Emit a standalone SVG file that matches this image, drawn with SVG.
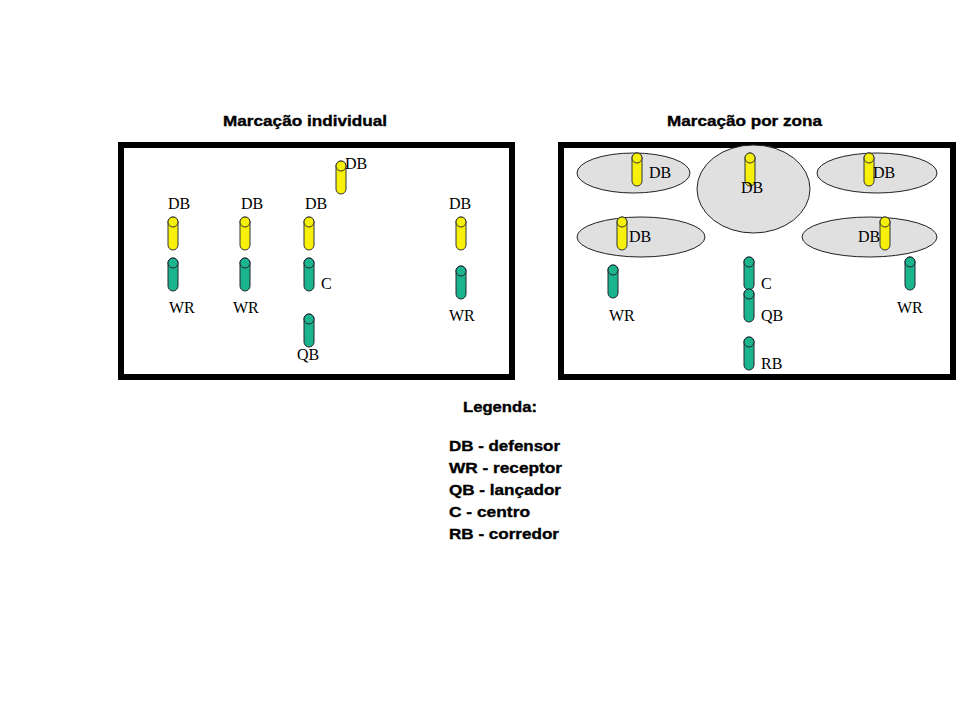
<svg xmlns="http://www.w3.org/2000/svg" width="970" height="718" viewBox="0 0 970 718">
<style>
.bg{fill:#fff}
.field{fill:#fff;stroke:#000;stroke-width:6}
.zone{fill:#e0e0e0;stroke:#222;stroke-width:1}
use.y{fill:#f7f00a;stroke:#333;stroke-width:1}
use.g{fill:#1ab58c;stroke:#223;stroke-width:1}
.lbl{font-family:"Liberation Serif","Times New Roman",serif;font-size:16px;fill:#000;stroke:none}
.title,.leg{font-family:"Liberation Sans",Arial,sans-serif;font-weight:bold;font-size:15px;fill:#000;stroke:#000;stroke-width:0.35}
</style>
<defs>
<g id="cyl"><rect x="-5" y="0" width="10" height="33" rx="5"/><circle cx="0" cy="5" r="5"/></g>
</defs>
<rect class="bg" x="0" y="0" width="970" height="718"/>

<text class="title" x="223" y="126" textLength="164" lengthAdjust="spacingAndGlyphs">Marcação individual</text>
<text class="title" x="667" y="126" textLength="155" lengthAdjust="spacingAndGlyphs">Marcação por zona</text>

<g id="field-individual">
<rect class="field" x="121" y="145" width="391" height="232"/>
</g>
<g id="field-zone">
<rect class="field" x="561" y="145" width="392" height="232"/>
</g>

<g id="zones">
<ellipse class="zone" cx="633.5" cy="173" rx="56.5" ry="20"/>
<ellipse class="zone" cx="753.5" cy="189" rx="56.5" ry="44"/>
<ellipse class="zone" cx="877" cy="173" rx="60" ry="20"/>
<ellipse class="zone" cx="641" cy="237" rx="64" ry="20"/>
<ellipse class="zone" cx="869.5" cy="237" rx="67.5" ry="20"/>
</g>

<g id="connectors"></g>

<!-- Individual marking -->
<g id="ind-db1"><use class="y" href="#cyl" x="173" y="217"/><text class="lbl" x="168" y="209">DB</text></g>
<g id="ind-wr1"><use class="g" href="#cyl" x="173" y="258"/><text class="lbl" x="169" y="313">WR</text></g>
<g id="ind-db2"><use class="y" href="#cyl" x="245" y="217"/><text class="lbl" x="241" y="209">DB</text></g>
<g id="ind-wr2"><use class="g" href="#cyl" x="245" y="258"/><text class="lbl" x="233" y="313">WR</text></g>
<g id="ind-db3"><use class="y" href="#cyl" x="309" y="217"/><text class="lbl" x="305" y="209">DB</text></g>
<g id="ind-c"><use class="g" href="#cyl" x="309" y="258"/><text class="lbl" x="321" y="289">C</text></g>
<g id="ind-qb"><use class="g" href="#cyl" x="309" y="314"/><text class="lbl" x="297" y="360">QB</text></g>
<g id="ind-db4"><use class="y" href="#cyl" x="341" y="161"/><text class="lbl" x="345" y="169">DB</text></g>
<g id="ind-db5"><use class="y" href="#cyl" x="461" y="217"/><text class="lbl" x="449" y="209">DB</text></g>
<g id="ind-wr3"><use class="g" href="#cyl" x="461" y="266"/><text class="lbl" x="449" y="321">WR</text></g>

<!-- Zone marking -->
<g id="zone-db1"><use class="y" href="#cyl" x="637" y="153"/><text class="lbl" x="649" y="178">DB</text></g>
<g id="zone-db2"><use class="y" href="#cyl" x="750" y="153"/><text class="lbl" x="741" y="193">DB</text></g>
<g id="zone-db3"><use class="y" href="#cyl" x="869" y="153"/><text class="lbl" x="873" y="178">DB</text></g>
<g id="zone-db4"><use class="y" href="#cyl" x="622" y="217"/><text class="lbl" x="629" y="242">DB</text></g>
<g id="zone-db5"><text class="lbl" x="858" y="242">DB</text><use class="y" href="#cyl" x="885" y="217"/></g>
<g id="zone-wr1"><use class="g" href="#cyl" x="613" y="265"/><text class="lbl" x="609" y="321">WR</text></g>
<g id="zone-c"><use class="g" href="#cyl" x="749" y="257"/><text class="lbl" x="761" y="289">C</text></g>
<g id="zone-qb"><use class="g" href="#cyl" x="749" y="289"/><text class="lbl" x="761" y="321">QB</text></g>
<g id="zone-rb"><use class="g" href="#cyl" x="749" y="337"/><text class="lbl" x="761" y="369">RB</text></g>
<g id="zone-wr2"><use class="g" href="#cyl" x="910" y="257"/><text class="lbl" x="897" y="313">WR</text></g>

<g id="legend">
<text class="leg" x="463" y="412" textLength="74" lengthAdjust="spacingAndGlyphs">Legenda:</text>
<text class="leg" x="449" y="451" textLength="111" lengthAdjust="spacingAndGlyphs">DB - defensor</text>
<text class="leg" x="449" y="473" textLength="113" lengthAdjust="spacingAndGlyphs">WR - receptor</text>
<text class="leg" x="449" y="495" textLength="112" lengthAdjust="spacingAndGlyphs">QB - lançador</text>
<text class="leg" x="449" y="517" textLength="81" lengthAdjust="spacingAndGlyphs">C - centro</text>
<text class="leg" x="449" y="539" textLength="110" lengthAdjust="spacingAndGlyphs">RB - corredor</text>
</g>
</svg>
